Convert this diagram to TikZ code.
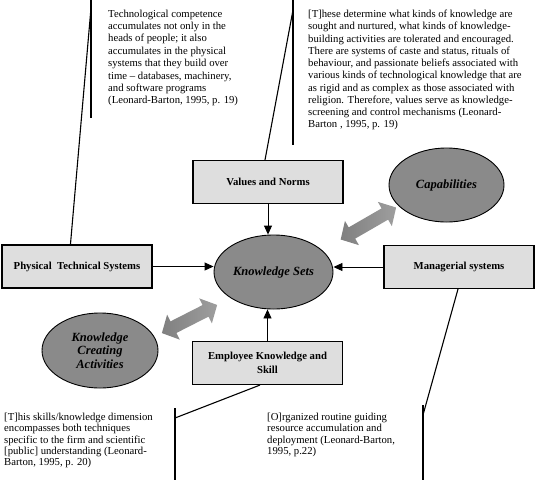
\documentclass[tikz,border=0pt]{standalone}
\usepackage{fontspec}
\setmainfont{Liberation Serif}
\usetikzlibrary{arrows.meta,calc,shapes.geometric}
\definecolor{boxgray}{gray}{0.87}
\definecolor{ellgray}{gray}{0.54}
\begin{document}
\begin{tikzpicture}[x=1pt,y=-1pt,
  box/.style={draw, line width=1.1pt, fill=boxgray, minimum width=150pt, minimum height=43pt,
    font=\fontsize{10.7}{14}\selectfont\bfseries, align=center, inner sep=2pt},
  ell/.style={ellipse, draw, line width=0.9pt, fill=ellgray,
    font=\fontsize{12.5}{13.5}\selectfont\bfseries\itshape, align=center, inner sep=0pt},
  conn/.style={line width=0.9pt, -{Triangle[length=9pt,width=8pt]}},
  call/.style={line width=1.1pt},
  note/.style={anchor=north west, inner sep=0pt, align=left},
  dblarr/.style={left color=black!50, middle color=black!22, right color=black!38, draw=none}
]
\useasboundingbox (0,0) rectangle (535,480);

% central ellipse and satellites
\node[ell, minimum width=119pt, minimum height=74pt] (KS) at (273.5,272) {Knowledge Sets};
\node[ell, minimum width=115pt, minimum height=74pt] (CAP) at (446.5,185) {Capabilities};
\node[ell, minimum width=116pt, minimum height=75pt] (KCA) at (100,350.5) {Knowledge\\Creating\\Activities};

% boxes
\node[box] (V) at (268,182) {Values and Norms};
\node[box] (PTS) at (77,266.5) {Physical\ \ Technical Systems};
\node[box] (MS) at (459,267) {Managerial systems};
\node[box] (EKS) at (267.5,363) {Employee Knowledge and\\Skill};

% connectors
\draw[conn] (V.south) -- (V.south |- KS.north);
\draw[conn] (PTS.east) -- (PTS.east -| KS.west);
\draw[conn] (MS.west) -- (MS.west -| KS.east);
\draw[conn] (EKS.north) -- (EKS.north |- KS.south);

% double block arrows
\begin{scope}[shift={(368.4,223.5)}, rotate=30]
  \path[dblarr] (-32,0) -- (-19,14) -- (-19,6.5) -- (19,6.5) -- (19,14) -- (32,0)
    -- (19,-14) -- (19,-6.5) -- (-19,-6.5) -- (-19,-14) -- cycle;
\end{scope}
\begin{scope}[shift={(189.5,319)}, rotate=27]
  \path[dblarr] (-31,0) -- (-18,14) -- (-18,6.5) -- (18,6.5) -- (18,14) -- (31,0)
    -- (18,-14) -- (18,-6.5) -- (-18,-6.5) -- (-18,-14) -- cycle;
\end{scope}

% callout texts
\node[note, font=\fontsize{10.7}{12.4}\selectfont] (T1) at (108,9.5) {Technological competence\\accumulates not only in the\\heads of people; it also\\accumulates in the physical\\systems that they build over\\time -- databases, machinery,\\and software programs\\(Leonard-Barton, 1995, p. 19)};
\node[note, font=\fontsize{10.7}{12.25}\selectfont] (T2) at (308,10) {[T]hese determine what kinds of knowledge are\\sought and nurtured, what kinds of knowledge-\\building activities are tolerated and encouraged.\\There are systems of caste and status, rituals of\\behaviour, and passionate beliefs associated with\\various kinds of technological knowledge that are\\as rigid and as complex as those associated with\\religion. Therefore, values serve as knowledge-\\screening and control mechanisms (Leonard-\\Barton , 1995, p. 19)};
\node[note, font=\fontsize{10.7}{11.2}\selectfont] (T3) at (4,413) {[T]his skills/knowledge dimension\\encompasses both techniques\\specific to the firm and scientific\\{[public]} understanding (Leonard-\\Barton, 1995, p. 20)};
\node[note, font=\fontsize{10.7}{11.3}\selectfont] (T4) at (267,413) {[O]rganized routine guiding\\resource accumulation and\\deployment (Leonard-Barton,\\1995, p.22)};

% callout lines
\coordinate (c1a) at (91,0);
\coordinate (c1b) at (91,118);
\coordinate (c1s) at (91,8);
\draw[call] (c1a) -- (c1b);
\draw[call] (c1s) -- ($(PTS.north west)+(69,0)$);

\coordinate (c2a) at (293,0);
\coordinate (c2b) at (293,145);
\coordinate (c2s) at (293,10);
\draw[call] (c2a) -- (c2b);
\draw[call] (c2s) -- ($(V.north)+(-3,0)$);

\coordinate (c3a) at (175,408);
\coordinate (c3b) at (175,480);
\coordinate (c3s) at (175,418);
\draw[call] (c3a) -- (c3b);
\draw[call] (c3s) -- ($(EKS.south)+(-7.5,0)$);

\coordinate (c4a) at (423,405);
\coordinate (c4b) at (423,480);
\coordinate (c4s) at (423,415);
\draw[call] (c4a) -- (c4b);
\draw[call] (c4s) -- ($(MS.south)+(-1,0)$);
\end{tikzpicture}
\end{document}
